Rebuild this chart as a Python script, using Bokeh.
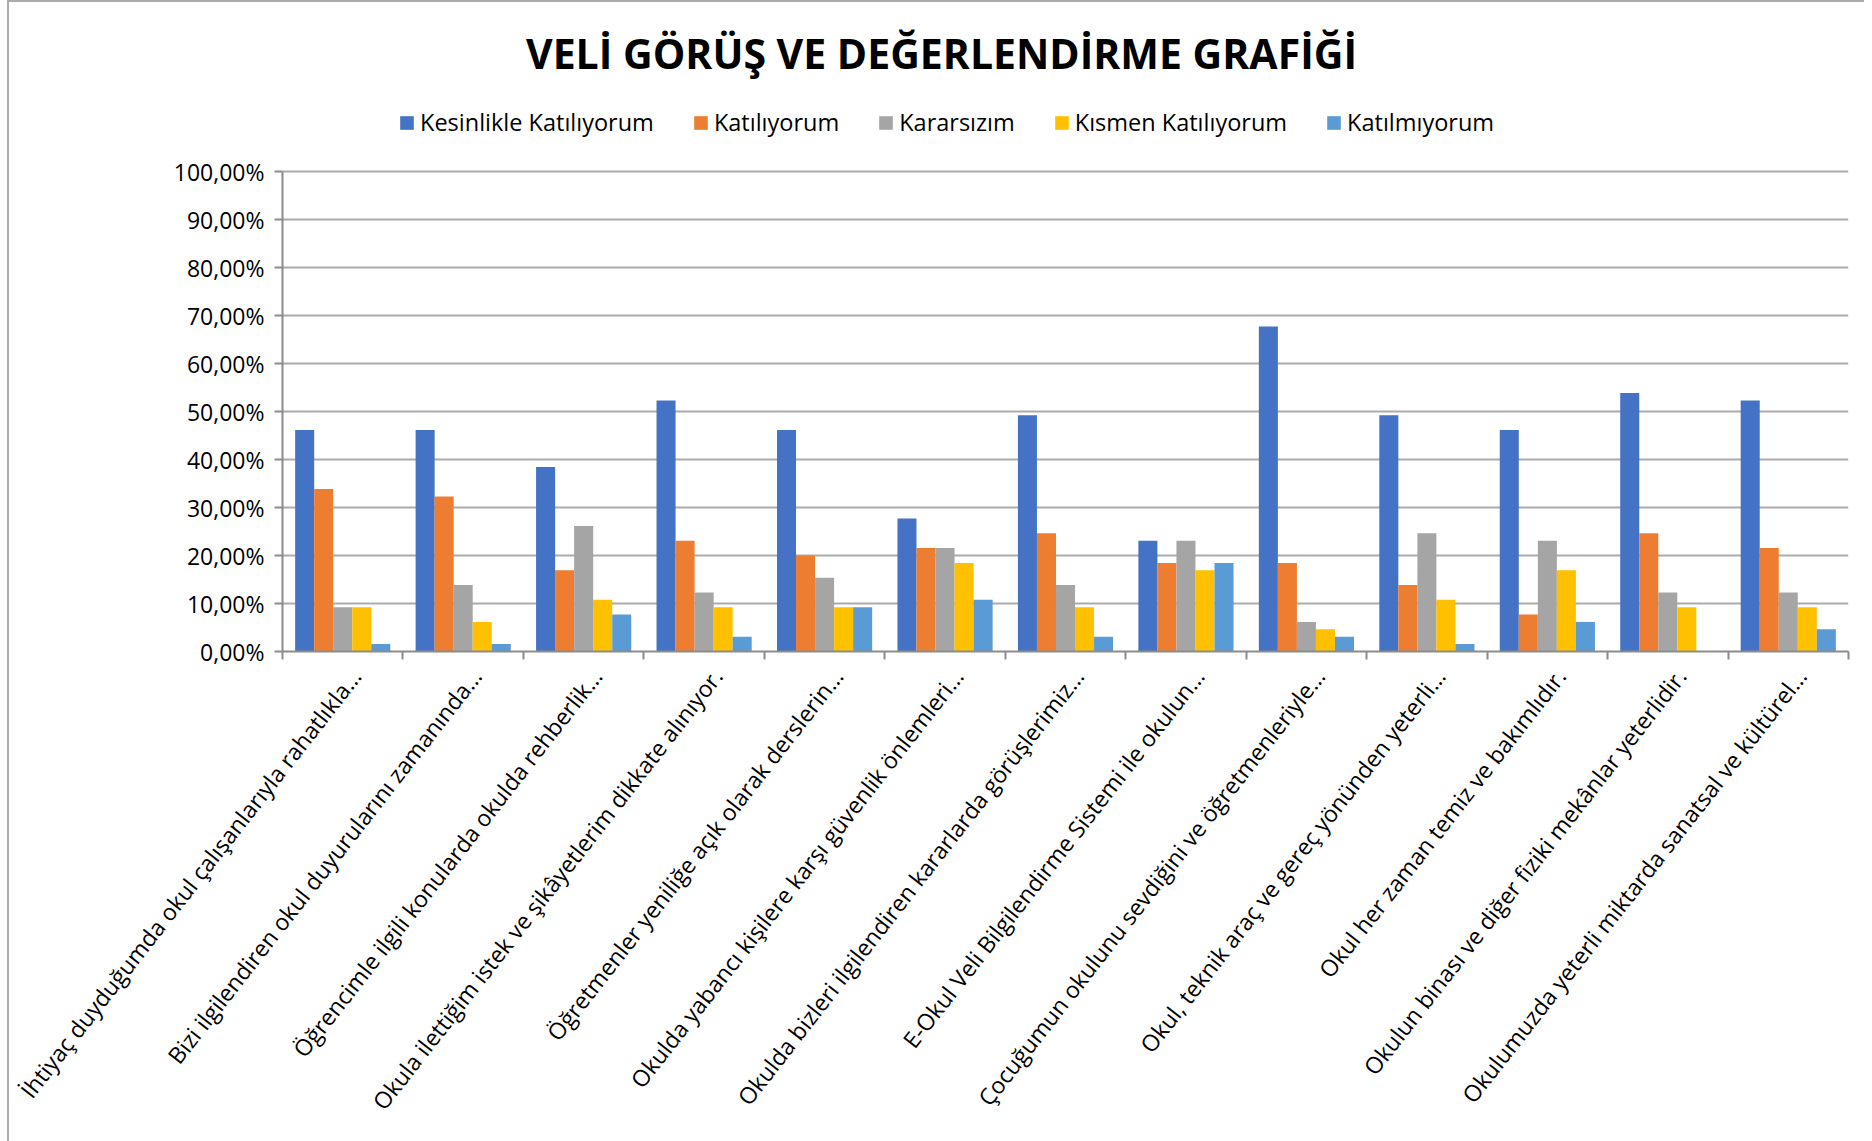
import math
from bokeh.plotting import figure
from bokeh.models import Range1d, FixedTicker, Label, Legend, LegendItem, ColumnDataSource
from bokeh.transform import dodge
from bokeh.embed import file_html
from bokeh.resources import INLINE

title_text = "VELİ GÖRÜŞ VE DEĞERLENDİRME GRAFİĞİ"

categories = [
    "İhtiyaç duyduğumda okul çalışanlarıyla rahatlıkla…",
    "Bizi ilgilendiren okul duyurularını zamanında…",
    "Öğrencimle ilgili konularda okulda rehberlik…",
    "Okula ilettiğim istek ve şikâyetlerim dikkate alınıyor.",
    "Öğretmenler yeniliğe açık olarak derslerin…",
    "Okulda yabancı kişilere karşı güvenlik önlemleri…",
    "Okulda bizleri ilgilendiren kararlarda görüşlerimiz…",
    "E-Okul Veli Bilgilendirme Sistemi ile okulun…",
    "Çocuğumun okulunu sevdiğini ve öğretmenleriyle…",
    "Okul, teknik araç ve gereç yönünden yeterli…",
    "Okul her zaman temiz ve bakımlıdır.",
    "Okulun binası ve diğer fiziki mekânlar yeterlidir.",
    "Okulumuzda yeterli miktarda sanatsal ve kültürel…",
]

series_names = ["Kesinlikle Katılıyorum", "Katılıyorum", "Kararsızım",
                "Kısmen Katılıyorum", "Katılmıyorum"]

kesinlikle_katiliyorum = [46.15, 46.15, 38.46, 52.31, 46.15, 27.69, 49.23, 23.08, 67.69, 49.23, 46.15, 53.85, 52.31]
katiliyorum = [33.85, 32.31, 16.92, 23.08, 20.00, 21.54, 24.62, 18.46, 18.46, 13.85, 7.69, 24.62, 21.54]
kararsizim = [9.23, 13.85, 26.15, 12.31, 15.38, 21.54, 13.85, 23.08, 6.15, 24.62, 23.08, 12.31, 12.31]
kismen_katiliyorum = [9.23, 6.15, 10.77, 9.23, 9.23, 18.46, 9.23, 16.92, 4.62, 10.77, 16.92, 9.23, 9.23]
katilmiyorum = [1.54, 1.54, 7.69, 3.08, 9.23, 10.77, 3.08, 18.46, 3.08, 1.54, 6.15, 0.00, 4.62]

y_ticks = [0, 10, 20, 30, 40, 50, 60, 70, 80, 90, 100]
y_tick_labels = ["0,00%", "10,00%", "20,00%", "30,00%", "40,00%", "50,00%",
                 "60,00%", "70,00%", "80,00%", "90,00%", "100,00%"]

colors = ["#4472C4", "#ED7D31", "#A5A5A5", "#FFC000", "#5B9BD5"]
FONT = "Open Sans"

n = len(categories)
centers = [i + 0.5 for i in range(n)]
boundaries = list(range(n + 1))

source = ColumnDataSource(dict(
    x=centers,
    s0=kesinlikle_katiliyorum,
    s1=katiliyorum,
    s2=kararsizim,
    s3=kismen_katiliyorum,
    s4=katilmiyorum,
))

# frame spans from the top of the canvas down to the 0 % line (651 px),
# 4.8 px per percent -> the 100 % line lands at 171 px
FRAME_H = 651
PX_PER_PCT = 4.8
p = figure(width=1864, height=1141, output_backend="svg", toolbar_location=None,
           x_range=Range1d(0, n), y_range=Range1d(0, FRAME_H / PX_PER_PCT),
           min_border_left=282, min_border_right=16, min_border_top=0,
           min_border_bottom=1141 - FRAME_H)
p.outline_line_color = None
p.background_fill_alpha = 0
p.border_fill_alpha = 0
# thin chart-area border (top and left edges) as in the reference
p.styles = {
    "background": ("linear-gradient(#ABABAB, #ABABAB) 7px 0 / 2px 100% no-repeat, "
                   "linear-gradient(#ABABAB, #ABABAB) 7px 0 / 100% 2px no-repeat, white"),
}

bw = 0.158
renderers = []
for k in range(5):
    off = (k - 2) * bw
    r = p.vbar(x=dodge("x", off, range=p.x_range), top="s%d" % k, width=bw,
               bottom=0, source=source, fill_color=colors[k], line_color=None)
    renderers.append(r)

# y axis
yt = FixedTicker(ticks=y_ticks)
p.yaxis.ticker = yt
p.ygrid.ticker = yt
p.yaxis.bounds = (0, 100)
p.yaxis.major_label_overrides = dict(zip(y_ticks, y_tick_labels))
p.yaxis.major_label_text_font = FONT
p.yaxis.major_label_text_font_size = "23px"
p.yaxis.major_label_text_color = "#000000"
p.yaxis.axis_line_color = "#8C8C8C"
p.yaxis.axis_line_width = 2
p.yaxis.major_tick_line_color = "#8C8C8C"
p.yaxis.major_tick_line_width = 2
p.yaxis.major_tick_in = 0
p.yaxis.major_tick_out = 8
p.yaxis.minor_tick_line_color = None
p.yaxis.major_label_standoff = 10
p.ygrid.grid_line_color = "#ABABAB"
p.ygrid.grid_line_width = 1.8
p.xgrid.visible = False

# x axis: labels near category centers, ticks at category boundaries
label_ticks = [round(c + 0.108, 3) for c in centers]
p.xaxis.ticker = FixedTicker(ticks=label_ticks, minor_ticks=boundaries)
p.xaxis.major_label_overrides = dict(zip(label_ticks, categories))
p.xaxis.major_label_orientation = math.radians(52)
p.xaxis.major_label_text_font = FONT
p.xaxis.major_label_text_font_size = "23px"
p.xaxis.major_label_text_color = "#000000"
p.xaxis.major_tick_line_color = None
p.xaxis.major_tick_in = 0
p.xaxis.major_tick_out = 0
p.xaxis.major_label_standoff = 12
p.xaxis.minor_tick_line_color = "#8C8C8C"
p.xaxis.minor_tick_line_width = 2
p.xaxis.minor_tick_in = 0
p.xaxis.minor_tick_out = 8
p.xaxis.axis_line_color = "#8C8C8C"
p.xaxis.axis_line_width = 2

# title (screen units measured from the frame's bottom-left corner)
p.add_layout(Label(x=659, y=FRAME_H - 52, x_units="screen", y_units="screen",
                   text=title_text, text_font=FONT, text_font_style="bold",
                   text_font_size="41px", text_color="#000000",
                   text_align="center", text_baseline="middle"))

# legend
items = [LegendItem(label=series_names[k], renderers=[renderers[k]]) for k in range(5)]
legend = Legend(items=items, orientation="horizontal", location=(116, FRAME_H - 138),
                glyph_width=17, glyph_height=17, label_standoff=5, spacing=38,
                padding=0, margin=0, border_line_alpha=0, background_fill_alpha=0,
                label_text_font=FONT, label_text_font_size="23.5px",
                label_text_color="#000000")
p.add_layout(legend)

open("out.html", "w").write(file_html(p, INLINE))
